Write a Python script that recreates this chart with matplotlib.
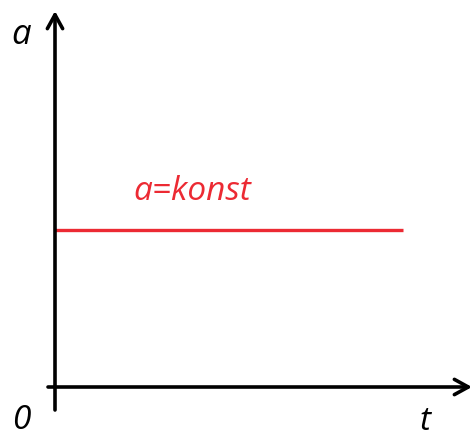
import matplotlib.pyplot as plt

# constant acceleration over time
t = [0, 348]
a = [157, 157]

fig = plt.figure(figsize=(4.75, 4.36), dpi=100)
ax = fig.add_axes([0, 0, 1, 1])
ax.set_xlim(-55, 420)
ax.set_ylim(-49, 387)
ax.axis("off")

arrow = dict(arrowstyle="->,head_length=1.0,head_width=0.55", lw=2.6, color="black",
             shrinkA=0, shrinkB=0, joinstyle="round", capstyle="round")
ax.annotate("", xy=(417, 0), xytext=(-7, 0), arrowprops=arrow)
ax.annotate("", xy=(0, 376), xytext=(0, -23), arrowprops=arrow)

ax.plot(t, a, color="#ec2a33", lw=2.4, solid_capstyle="butt")

font = dict(family="Open Sans", style="italic")
ax.text(-34, 352, "a", fontsize=25, ha="center", va="center", **font)
ax.text(-34, -33, "0", fontsize=24, ha="center", va="center", **font)
ax.text(370, -34, "t", fontsize=24, ha="center", va="center", **font)
ax.text(137, 195, "a=konst", fontsize=24, color="#ec2a33", ha="center", va="center", **font)

fig.savefig("out.png", dpi=100)
